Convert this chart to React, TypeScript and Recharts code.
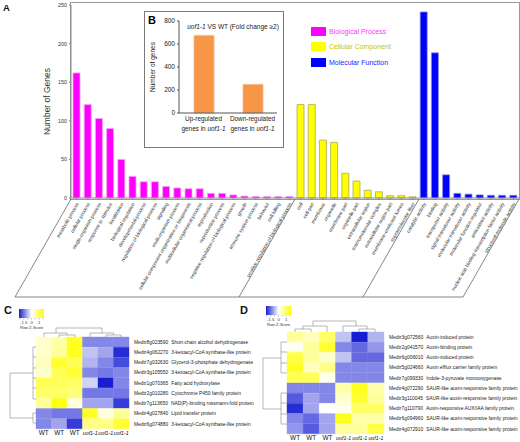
import { BarChart, Bar, XAxis, YAxis, Cell } from 'recharts';

// GO annotation counts (panel A)
const BP_TERMS = [
  'metabolic process', 'cellular process', 'single-organism process', 'response to stimulus',
  'localization', 'biological regulation', 'developmental process', 'regulation of biological process',
  'signaling', 'multi-organism process', 'cellular component organization or biogenesis',
  'multicellular organismal process', 'reproduction', 'reproductive process',
  'negative regulation of biological process', 'growth', 'immune system process', 'behavior',
  'cell killing', 'positive regulation of biological process',
];
const BP_COUNTS = [162, 121, 103, 90, 50, 28, 21, 21, 15, 13, 12, 12, 6, 6, 4, 2.5, 2, 2, 2, 2];

const CC_TERMS = [
  'cell', 'cell part', 'membrane', 'organelle', 'membrane part', 'organelle part',
  'extracellular region', 'macromolecular complex', 'extracellular region part',
  'membrane-enclosed lumen', 'supramolecular fiber',
];
const CC_COUNTS = [121, 121, 75, 72, 32, 22, 10, 8, 3, 3, 1.5];

const MF_TERMS = [
  'catalytic activity', 'binding', 'transporter activity', 'signal transducer activity',
  'molecular transducer activity', 'molecular function regulator', 'antioxidant activity',
  'nucleic acid binding transcription factor activity', 'structural molecule activity',
];
const MF_COUNTS = [241, 188, 30, 6, 5, 4, 3.5, 3.5, 3.5];

const GROUP_NAMES = ['Biological Process', 'Cellular Component', 'Molecular Function'];
const GROUP_FILLS = ['#ff00ff', '#ffff00', '#0000ff'];
const GROUP_STROKES = ['#f2a6f2', '#a9a95c', '#8c8cd6'];
const GROUP_TEXT = ['#ff33ff', '#c9c400', '#2222ff'];
const A_TICKS = [0, 50, 100, 150, 200, 250];

// DEG counts (panel B)
const DEG_LABELS = ['Up-regulated', 'Down-regulated'];
const DEG_COUNTS = [675, 249];
const B_TICKS = [0, 200, 400, 600, 800];

// heatmaps (panels C, D)
const SAMPLES = ['WT', 'WT', 'WT', 'uof1-1', 'uof1-1', 'uof1-1'];
const SAMPLE_TICKS = [0.5, 1.5, 2.5, 3.5, 4.5, 5.5];

const C_GENES = [
  'Medtr8g023590', 'Medtr4g062270', 'Medtr7g032630', 'Medtr3g105550', 'Medtr1g070365',
  'Medtr2g010280', 'Medtr7g113650', 'Medtr4g027840', 'Medtr6g074880',
];
const C_DESCS = [
  'Short-chain alcohol dehydrogenase', '3-ketoacyl-CoA synthase-like protein',
  'Glycerol-3-phosphate dehydrogenase', '3-ketoacyl-CoA synthase-like protein',
  'Fatty acid hydroxylase', 'Cytochrome P450 family protein',
  'NAD(P)-binding rossmann-fold protein', 'Lipid transfer protein',
  '3-ketoacyl-CoA synthase-like protein',
];
const C_Z = [
  [0.3, 0.5, 1.3, -0.8, -0.8, -0.8],
  [0.3, 0.6, 1.3, -0.4, -0.6, -1.4],
  [0.4, 1.2, 1.0, -0.5, -0.8, -1.2],
  [0.3, 1.0, 1.2, -0.8, -0.9, -0.8],
  [1.0, 1.0, 0.9, -0.3, -1.5, -0.8],
  [0.9, 0.9, 0.8, -0.9, -0.9, -0.9],
  [0.6, 1.4, 0.2, -0.6, -0.6, -1.3],
  [-0.8, -0.9, -0.9, 1.3, 0.2, 0.6],
  [-0.8, -0.6, -1.3, 0.7, 0.7, 1.2],
];

const D_GENES = [
  'Medtr3g072560', 'Medtr2g041570', 'Medtr6g006010', 'Medtr5g024660', 'Medtr7g099330',
  'Medtr4g072290', 'Medtr3g110045', 'Medtr7g110790', 'Medtr6g094960', 'Medtr4g072910',
];
const D_DESCS = [
  'Auxin-induced protein', 'Auxin-binding protein', 'Auxin-induced protein',
  'Auxin efflux carrier family protein', 'Indole-3-pyruvate monooxygenase',
  'SAUR-like auxin-responsive family protein', 'SAUR-like auxin-responsive family protein',
  'Auxin-responsive AUX/IAA family protein', 'SAUR-like auxin-responsive family protein',
  'SAUR-like auxin-responsive family protein',
];
const D_Z = [
  [0.6, 0.4, 0.9, -0.4, -1.5, -0.5],
  [0.1, 0.6, 1.2, -0.8, -1.0, -0.7],
  [1.1, 0.6, 0.3, -0.4, -1.0, -1.0],
  [1.3, 0.4, 0.7, -0.8, -0.8, -0.8],
  [1.0, 1.0, 0.1, -0.8, -0.8, -0.8],
  [-0.8, -0.8, -0.8, 0.5, 1.3, 0.5],
  [-1.1, -0.6, -0.8, 0.3, 1.2, 0.6],
  [-1.4, -0.6, 0.0, 0.1, 0.9, 0.9],
  [-0.8, -1.0, -0.6, 1.3, 0.5, 0.5],
  [-0.7, -1.1, -0.6, 0.6, 0.6, 1.1],
];

const goData = [
  ...BP_TERMS.map((term, i) => ({ term, count: BP_COUNTS[i], group: 0 })),
  ...CC_TERMS.map((term, i) => ({ term, count: CC_COUNTS[i], group: 1 })),
  ...MF_TERMS.map((term, i) => ({ term, count: MF_COUNTS[i], group: 2 })),
];
const degData = DEG_LABELS.map((name, i) => ({ name, value: DEG_COUNTS[i] }));

const zColor = (z: number) => {
  const t = Math.min(Math.abs(z) / 1.5, 1);
  if (z >= 0) return `rgb(255,255,${Math.round(255 * (1 - t))})`;
  return `rgb(${Math.round(255 - 232 * t)},${Math.round(255 - 225 * t)},${Math.round(255 - 45 * t)})`;
};

const FONT = '"Liberation Sans", Arial, sans-serif';

const GoTick = ({ x, y, payload }: any) => (
  <text x={x + 1} y={y + 2} transform={`rotate(-60 ${x + 1} ${y + 2})`} textAnchor="end"
    fontSize={4.9} fill="#333" dy={1.6}>{payload.value}</text>
);

const DegTick = ({ x, y, payload }: any) => (
  <g fontSize={6.4} fill="#222">
    <text x={x} y={y + 8} textAnchor="middle">{payload.value}</text>
    <text x={x} y={y + 18} textAnchor="middle">genes in <tspan fontStyle="italic">uof1-1</tspan></text>
  </g>
);

const SampleTick = ({ x, y, payload }: any) => {
  const s = SAMPLES[Math.floor(payload.value)];
  return (
    <text x={x} y={y + 6} textAnchor="middle" fontSize={s === 'WT' ? 6.4 : 5.3} fill="#111"
      fontStyle={s === 'WT' ? 'normal' : 'italic'}>{s}</text>
  );
};

const makeGeneTick = (descs: string[]) => ({ x, y, payload, index }: any) => (
  <text x={x + 5} y={y + 1.7} fontSize={4.9} fill="#222">
    <tspan>{payload.value}</tspan>
    <tspan dx={3}>{descs[index]}</tspan>
  </text>
);

const Heatmap = ({ genes, descs, z, width, height, top, left, axisH, labelW }: any) => {
  const rows = genes.map((gene: string) => {
    const r: any = { gene };
    SAMPLES.forEach((_, j) => { r[`s${j}`] = 1; });
    return r;
  });
  return (
    <BarChart layout="vertical" width={width} height={height} data={rows}
      margin={{ top, right: 0, bottom: 0, left }} barCategoryGap={0}>
      <XAxis type="number" domain={[0, 6]} ticks={SAMPLE_TICKS} interval={0} tick={<SampleTick />}
        axisLine={false} tickLine={false} tickSize={0} tickMargin={0} height={axisH} />
      <YAxis type="category" dataKey="gene" orientation="right" width={labelW}
        interval={0} axisLine={false} tickLine={false} tickSize={0} tickMargin={0}
        tick={makeGeneTick(descs)} />
      {SAMPLES.map((_, j) => (
        <Bar key={j} dataKey={`s${j}`} stackId="h" isAnimationActive={false}>
          {rows.map((_: any, i: number) => (
            <Cell key={i} fill={zColor(z[i][j])} stroke={zColor(z[i][j])} strokeWidth={0.4} />
          ))}
        </Bar>
      ))}
    </BarChart>
  );
};

const ColorKey = ({ x, y, id }: { x: number; y: number; id: string }) => (
  <g>
    <defs>
      <linearGradient id={id} x1="0" x2="1" y1="0" y2="0">
        <stop offset="0" stopColor="#1720d2" />
        <stop offset="0.5" stopColor="#ffffff" />
        <stop offset="1" stopColor="#ffff00" />
      </linearGradient>
    </defs>
    <rect x={x} y={y} width={25} height={9} fill={`url(#${id})`} />
    {[0, 1, 2, 3, 4, 5, 6].map((k) => (
      <line key={k} x1={x + 1 + k * 3.8} x2={x + 1 + k * 3.8} y1={y + 9} y2={y + 10.5} stroke="#555" strokeWidth={0.4} />
    ))}
    <text x={x + 1} y={y + 14.5} fontSize={4.2} fill="#333">-1.5</text>
    <text x={x + 11.5} y={y + 14.5} fontSize={4.2} fill="#333">0</text>
    <text x={x + 19} y={y + 14.5} fontSize={4.2} fill="#333">1</text>
    <text x={x + 1} y={y + 19.5} fontSize={4} fill="#333">Row Z-Score</text>
  </g>
);

const seg = (pts: number[][]) => pts.map((p) => `M${p[0]},${p[1]}L${p[2]},${p[3]}`).join('');

const App = () => {
  return (
    <div style={{ position: 'fixed', left: 0, top: 0, width: 520, height: 442, overflow: 'hidden', background: '#fff', fontFamily: FONT }}>
      {/* panel A frame */}
      <div style={{ position: 'absolute', left: 70, top: 2, width: 448, height: 196, border: '1px solid #9a9a9a' }} />
      <div style={{ position: 'absolute', left: 0, top: 0 }}>
        <BarChart width={520} height={300} data={goData} margin={{ top: 5, right: 1, bottom: 0, left: 0 }} barCategoryGap="18%">
          <XAxis dataKey="term" interval={0} height={102} tick={<GoTick />} tickSize={2} tickMargin={1}
            axisLine={{ stroke: '#8a8a8a' }} tickLine={{ stroke: '#8a8a8a' }} />
          <YAxis width={71} domain={[0, 250]} ticks={A_TICKS} tickSize={2} tickMargin={2}
            tick={{ fontSize: 5.4, fill: '#333' }} axisLine={{ stroke: '#8a8a8a' }} tickLine={{ stroke: '#8a8a8a' }}
            label={{ value: 'Number of Genes', angle: -90, position: 'center', dx: 11, fontSize: 8.5, fill: '#333' }} />
          <Bar dataKey="count" isAnimationActive={false}>
            {goData.map((d, i) => (
              <Cell key={i} fill={GROUP_FILLS[d.group]} stroke={GROUP_STROKES[d.group]} strokeWidth={0.8} />
            ))}
          </Bar>
        </BarChart>
      </div>

      {/* legend */}
      {GROUP_NAMES.map((g, i) => (
        <div key={g} style={{ position: 'absolute', left: 311, top: 27 + i * 15.3, display: 'flex', alignItems: 'center', gap: 3 }}>
          <div style={{ width: 15, height: 9, background: GROUP_FILLS[i] }} />
          <span style={{ fontSize: 7, color: GROUP_TEXT[i], lineHeight: '9px' }}>{g}</span>
        </div>
      ))}

      {/* panel B inset */}
      <div style={{ position: 'absolute', left: 144, top: 11, width: 138, height: 135, border: '1px solid #7a7a7a', background: '#fff' }}>
        <BarChart width={138} height={135} data={degData} margin={{ top: 9, right: 6, bottom: 0, left: 0 }}>
          <XAxis dataKey="name" interval={0} height={34} tick={<DegTick />} tickSize={0} tickMargin={0}
            axisLine={{ stroke: '#555' }} tickLine={false} />
          <YAxis width={34} domain={[0, 800]} ticks={B_TICKS} tickSize={2} tickMargin={2}
            tick={{ fontSize: 6.5, fill: '#222' }} axisLine={{ stroke: '#555' }} tickLine={{ stroke: '#555' }}
            label={{ value: 'Number of genes', angle: -90, position: 'center', dx: -9, fontSize: 6.5, fill: '#222' }} />
          <Bar dataKey="value" fill="#f79646" stroke="#f9b98a" strokeWidth={0.8} barSize={20} isAnimationActive={false} />
        </BarChart>
        <div style={{ position: 'absolute', left: 0, top: 0, fontSize: 11, fontWeight: 'bold', padding: '2px 0 0 3px' }}>B</div>
        <div style={{ position: 'absolute', left: 38, width: 100, top: 11, fontSize: 6.5, color: '#222', textAlign: 'center' }}>
          <i>uof1-1</i> VS WT (Fold change ≥2)
        </div>
      </div>

      {/* heatmaps */}
      <div style={{ position: 'absolute', left: 0, top: 330 }}>
        <Heatmap genes={C_GENES} descs={C_DESCS} z={C_Z} width={260} height={112} top={7} left={36} axisH={13} labelW={131} />
      </div>
      <div style={{ position: 'absolute', left: 260, top: 325 }}>
        <Heatmap genes={D_GENES} descs={D_DESCS} z={D_Z} width={260} height={117} top={7} left={27} axisH={8} labelW={136} />
      </div>

      {/* annotations: brackets, labels, dendrograms, keys */}
      <svg width={520} height={442} style={{ position: 'absolute', left: 0, top: 0, pointerEvents: 'none' }}>
        <path d={seg([[15, 297, 71, 199], [239, 297, 295, 199], [363, 297, 419, 199], [463, 297, 519, 199], [15, 297, 463, 297]])}
          stroke="#666" strokeWidth={0.8} fill="none" />
        <text x={3} y={11} fontSize={9.5} fontWeight="bold" fill="#111">A</text>
        <text x={4} y={314} fontSize={11} fontWeight="bold" fill="#111">C</text>
        <text x={240} y={314} fontSize={11} fontWeight="bold" fill="#111">D</text>
        <ColorKey x={19} y={309} id="kc" />
        <ColorKey x={266} y={306} id="kd" />
        <path stroke="#888" strokeWidth={0.6} fill="none" d={seg([
          [56, 328, 102, 328], [56, 328, 56, 333], [102, 328, 102, 333],
          [44, 333, 67, 333], [44, 333, 44, 337], [67, 333, 67, 335], [59, 335, 75, 335], [59, 335, 59, 337], [75, 335, 75, 337],
          [90, 333, 113.5, 333], [90, 333, 90, 337], [113.5, 333, 113.5, 335], [106, 335, 121, 335], [106, 335, 106, 337], [121, 335, 121, 337],
          [10, 373, 10, 418], [10, 373, 33, 373], [10, 418, 33, 418],
          [33, 347, 33, 399], [33, 413, 33, 423], [33, 413, 36, 413], [33, 423, 36, 423],
          [33, 347, 36, 347], [33, 357, 36, 357], [33, 368, 36, 368], [33, 378, 36, 378], [33, 388, 36, 388], [33, 399, 36, 399],
          [313, 321, 356, 321], [313, 321, 313, 326], [356, 321, 356, 326],
          [303, 326, 327, 326], [303, 326, 303, 329], [295, 329, 311, 329], [295, 329, 295, 332], [311, 329, 311, 332], [327, 326, 327, 332],
          [343, 326, 367, 326], [343, 326, 343, 332], [367, 326, 367, 329], [359, 329, 375, 329], [359, 329, 359, 332], [375, 329, 375, 332],
          [263, 358, 263, 409], [263, 358, 281, 358], [263, 409, 281, 409],
          [281, 342, 281, 373], [281, 393, 281, 424],
          [281, 342, 287, 342], [281, 352, 287, 352], [281, 363, 287, 363], [281, 373, 287, 373],
          [281, 393, 287, 393], [281, 403, 287, 403], [281, 414, 287, 414], [281, 424, 287, 424],
        ])} />
      </svg>
    </div>
  );
};

export default App;
